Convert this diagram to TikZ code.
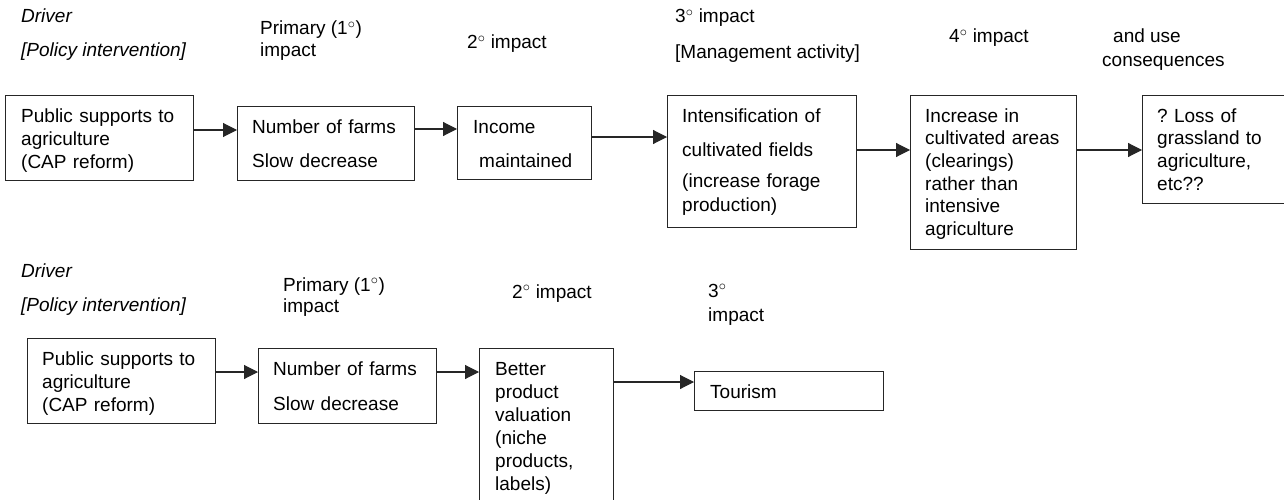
\documentclass[tikz,border=0pt]{standalone}
\usepackage{fontspec}
\setmainfont{Liberation Sans}
\usetikzlibrary{arrows.meta}
\newcommand\degr{$^{\circ}$}
\begin{document}
\begin{tikzpicture}[x=1pt,y=-1pt,
  box/.style={draw=black!85, line width=1.1pt, rectangle, inner sep=0pt, anchor=north west},
  txt/.style={font=\fontsize{19}{23}\selectfont, inner sep=0pt, anchor=base west, align=left, text width=170pt},
  hdr/.style={font=\fontsize{19}{23}\selectfont, inner sep=0pt, anchor=base west},
  ihdr/.style={hdr, font=\fontsize{19}{23}\selectfont\itshape},
  arr/.style={line width=1.1pt, draw=black!85, -{Triangle[length=14pt,width=14pt]}}]
\useasboundingbox (0,0) rectangle (1284,500);
\clip (0,0) rectangle (1284,500);
% ---------- top row ----------
\node[ihdr] (d1) at (21,23) {Driver};
\node[ihdr] (p1) at (21,57) {[Policy intervention]};
\node[hdr] (h11) at (260,35) {Primary (1\degr)};
\node[hdr] (h12) at (260,57) {impact};
\node[hdr] (h2) at (467,49) {2\degr\ impact};
\node[hdr] (h31) at (675,23) {3\degr\ impact};
\node[hdr] (h32) at (675,59) {[Management activity]};
\node[hdr] (h4) at (949,43) {4\degr\ impact};
\node[hdr] (h51) at (1113,43) {and use};
\node[hdr] (h52) at (1102,67) {consequences};

\node[box, minimum width=188pt, minimum height=85pt] (A1) at (5,95) {};
\node[box, minimum width=177pt, minimum height=74pt] (A2) at (237,106) {};
\node[box, minimum width=134pt, minimum height=73pt] (A3) at (457,106) {};
\node[box, minimum width=189pt, minimum height=132pt] (A4) at (667,95) {};
\node[box, minimum width=166pt, minimum height=154pt] (A5) at (910,95) {};
\node[box, minimum width=170pt, minimum height=108pt] (A6) at (1142,95) {};

\node[txt] (tA1) at ([shift={(16,27)}]A1.north west) {Public supports to\\agriculture\\(CAP reform)};
\node[txt] (tA2) at ([shift={(15,27)}]A2.north west) {Number of farms\\[11pt]Slow decrease};
\node[txt] (tA3) at ([shift={(16,27)}]A3.north west) {Income\\[11pt]\hspace*{6pt}maintained};
\node[txt] (tA4) at ([shift={(15,28)}]A4.north west) {Intensification of\\[11pt]cultivated fields\\[8pt](increase forage\\[1pt]production)};
\node[txt, font=\fontsize{19}{22.7}\selectfont] (tA5) at ([shift={(15,27)}]A5.north west) {Increase in\\cultivated areas\\(clearings)\\rather than\\intensive\\agriculture};
\node[txt, font=\fontsize{19}{22.7}\selectfont] (tA6) at ([shift={(15,27)}]A6.north west) {?\ Loss of\\grassland to\\agriculture,\\etc??};

\draw[arr] (A1.east |- 0,130) -- (A2.west |- 0,130);
\draw[arr] (A2.east |- 0,129) -- (A3.west |- 0,129);
\draw[arr] (A3.east |- 0,137) -- (A4.west |- 0,137);
\draw[arr] (A4.east |- 0,150) -- (A5.west |- 0,150);
\draw[arr] (A5.east |- 0,150) -- (A6.west |- 0,150);

% ---------- bottom row ----------
\node[ihdr] (d2) at (21,277) {Driver};
\node[ihdr] (p2) at (21,311) {[Policy intervention]};
\node[hdr] (g11) at (283,291) {Primary (1\degr)};
\node[hdr] (g12) at (283,312) {impact};
\node[hdr] (g2) at (512,298) {2\degr\ impact};
\node[hdr] (g31) at (708,297) {3\degr};
\node[hdr] (g32) at (708,321) {impact};

\node[box, minimum width=188pt, minimum height=85pt] (B1) at (27,338) {};
\node[box, minimum width=178pt, minimum height=75pt] (B2) at (258,348) {};
\node[box, minimum width=134pt, minimum height=170pt] (B3) at (479,348) {};
\node[box, minimum width=189pt, minimum height=39pt] (B4) at (694,371) {};

\node[txt] (tB1) at ([shift={(15,27)}]B1.north west) {Public supports to\\agriculture\\(CAP reform)};
\node[txt] (tB2) at ([shift={(15,27)}]B2.north west) {Number of farms\\[12pt]Slow decrease};
\node[txt] (tB3) at ([shift={(16,27)}]B3.north west) {Better\\product\\valuation\\(niche\\products,\\labels)};
\node[txt] (tB4) at ([shift={(16,27)}]B4.north west) {Tourism};

\draw[arr] (B1.east |- 0,372) -- (B2.west |- 0,372);
\draw[arr] (B2.east |- 0,372) -- (B3.west |- 0,372);
\draw[arr] (B3.east |- 0,382) -- (B4.west |- 0,382);
\end{tikzpicture}
\end{document}
